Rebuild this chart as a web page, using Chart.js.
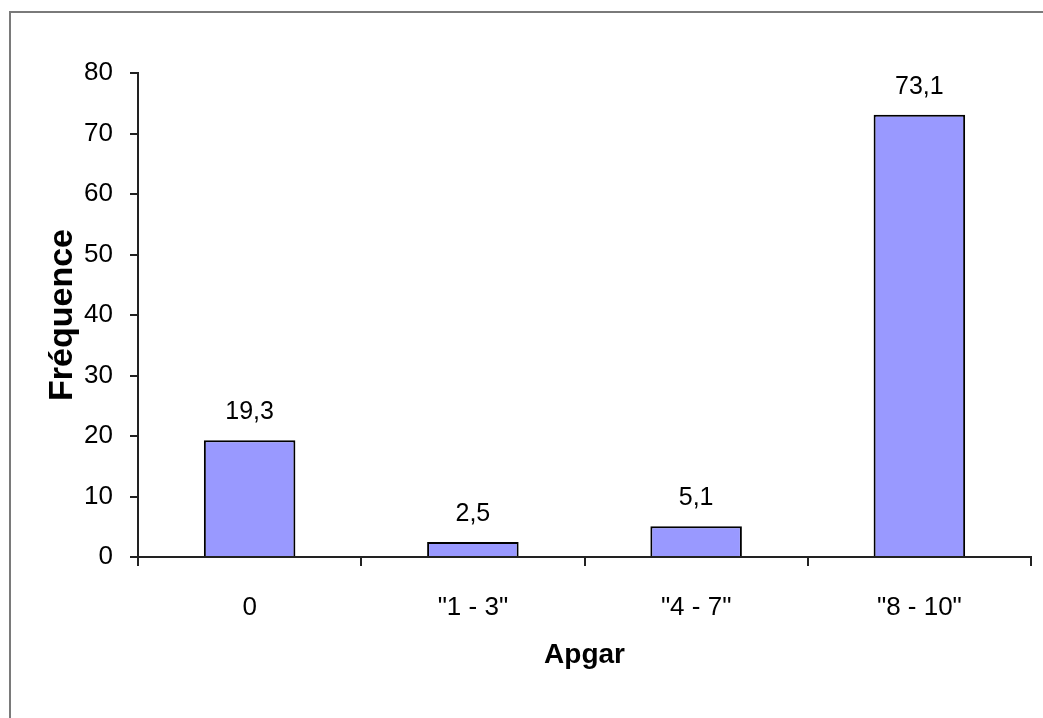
<!DOCTYPE html>
<html>
<head>
<meta charset="utf-8">
<script src="https://cdn.jsdelivr.net/npm/chart.js@4/dist/chart.umd.min.js"></script>
<style>
  html, body { margin: 0; padding: 0; background: #ffffff; }
  #wrap { position: relative; width: 1043px; height: 718px; }
</style>
</head>
<body>
<div id="wrap"><canvas id="c"></canvas></div>
<script>
const categories = ['0', '"1 - 3"', '"4 - 7"', '"8 - 10"'];
const frequencies = [19.3, 2.5, 5.1, 73.1];
const yTicks = [0, 10, 20, 30, 40, 50, 60, 70, 80];

const FONT = '"Liberation Sans", Arial, sans-serif';

const frame = {
  id: 'frame',
  beforeDraw(chart) {
    const ctx = chart.ctx;
    ctx.save();
    ctx.fillStyle = '#ffffff';
    ctx.fillRect(0, 0, chart.width, chart.height);
    ctx.fillStyle = '#7a7a7a';
    ctx.fillRect(9, 11, chart.width - 9, 2);
    ctx.fillRect(9, 11, 2, chart.height - 11);
    ctx.restore();
  }
};

const valueLabels = {
  id: 'valueLabels',
  afterDatasetsDraw(chart) {
    const ctx = chart.ctx;
    const meta = chart.getDatasetMeta(0);
    ctx.save();
    ctx.font = '25px ' + FONT;
    ctx.fillStyle = '#000000';
    ctx.textAlign = 'center';
    ctx.textBaseline = 'alphabetic';
    meta.data.forEach((bar, i) => {
      const txt = frequencies[i].toFixed(1).replace('.', ',');
      ctx.fillText(txt, bar.x, bar.y - 21);
    });
    ctx.restore();
  }
};

new Chart(document.getElementById('c'), {
  type: 'bar',
  data: {
    labels: categories,
    datasets: [{
      data: frequencies,
      backgroundColor: '#9999ff',
      borderColor: '#000000',
      borderWidth: 2,
      borderSkipped: 'bottom',
      categoryPercentage: 1,
      barPercentage: 0.41
    }]
  },
  options: {
    responsive: true,
    maintainAspectRatio: false,
    animation: false,
    layout: { padding: { top: 73, right: 12, bottom: 0, left: 0 } },
    plugins: { legend: { display: false }, tooltip: { enabled: false } },
    scales: {
      x: {
        grid: { display: true, offset: true, drawOnChartArea: false, drawTicks: true, tickLength: 9, color: '#222222', lineWidth: 2 },
        border: { display: true, color: '#222222', width: 2 },
        ticks: { color: '#000000', font: { family: FONT, size: 26 }, padding: 26, maxRotation: 0 },
        title: { display: true, text: 'Apgar', color: '#000000', font: { family: FONT, size: 28, weight: 'bold' }, padding: { top: 0, bottom: 46 } },
        afterFit(scale) { scale.height = 161; }
      },
      y: {
        min: 0, max: 80,
        afterBuildTicks(scale) { scale.ticks = yTicks.map(v => ({ value: v })); },
        grid: { display: true, drawOnChartArea: false, drawTicks: true, tickLength: 8, color: '#222222', lineWidth: 2 },
        border: { display: true, color: '#222222', width: 2 },
        ticks: { color: '#000000', font: { family: FONT, size: 26 }, padding: 17 },
        title: { display: true, text: 'Fréquence', color: '#000000', font: { family: FONT, size: 34, weight: 'bold' }, padding: { top: 42, bottom: 0 } },
        afterFit(scale) { scale.width = 138; }
      }
    }
  },
  plugins: [frame, valueLabels]
});
</script>
</body>
</html>
